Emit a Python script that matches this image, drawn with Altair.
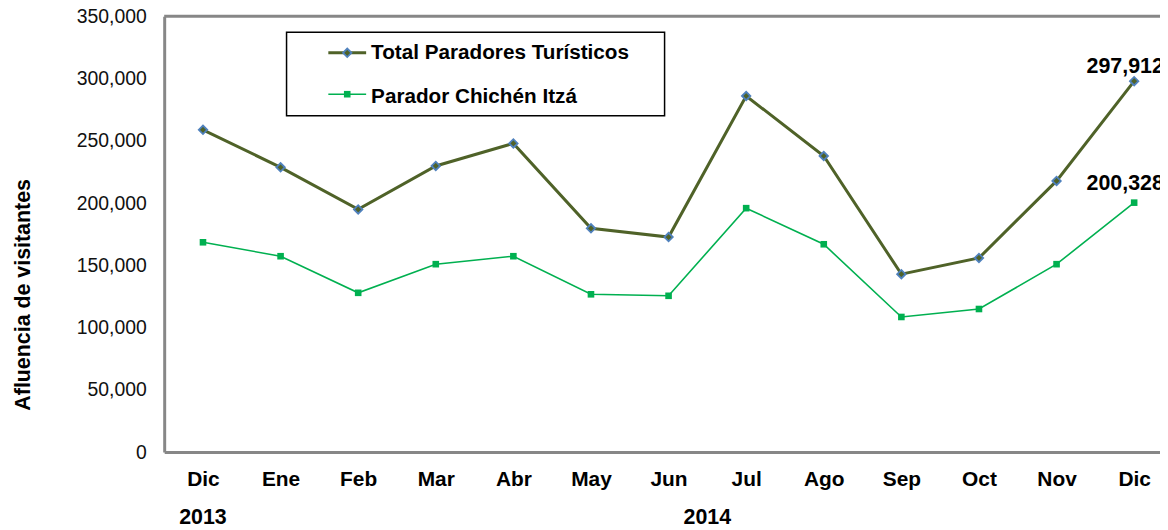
import altair as alt
import pandas as pd

# ---- data ----
months = ["Dic", "Ene", "Feb", "Mar", "Abr", "May", "Jun", "Jul", "Ago", "Sep", "Oct", "Nov", "Dic"]
total = [258800, 228700, 194900, 229800, 247900, 179700, 172700, 286000, 237800, 142900, 155900, 217800, 297912]
chichen = [168500, 157300, 127900, 150900, 157300, 126700, 125500, 195900, 166900, 108500, 114900, 150900, 200328]
years = ["2013", "2014"]
year_months = [[0], list(range(1, 13))]
series = ["Total Paradores Turísticos", "Parador Chichén Itzá"]
y_ticks = list(range(0, 350001, 50000))

FONT = "Liberation Sans"
W, H = 1001, 438
FRAME = "#878787"
OLIVE = "#4F6228"
BLUE = "#4F81BD"
GREEN = "#00B050"

df = pd.DataFrame({"i": list(range(len(months))), "mes": months, "total": total, "chichen": chichen})
yr = pd.DataFrame({"year": years, "pos": [sum(m) / len(m) for m in year_months]})

label_expr = "[" + ",".join("'%s'" % m for m in months) + "][datum.value]"
xscale = alt.Scale(domain=[-0.5, 12.333], nice=False, zero=False)
xaxis = alt.Axis(values=list(range(len(months))), labelExpr=label_expr, title=None, ticks=False, grid=False,
                 labelFontSize=21, labelFontWeight="bold", labelColor="#000", labelPadding=17,
                 labelFlush=False, labelOverlap=False, domainColor=FRAME, domainWidth=3)
yscale = alt.Scale(domain=[0, 350000], nice=False)
yaxis = alt.Axis(values=y_ticks, format=",d", title="Afluencia de visitantes", ticks=False, grid=False,
                 labelFontSize=19.5, labelColor="#111", labelPadding=18,
                 titleFontSize=21.5, titleFontWeight="bold", titleColor="#000",
                 titleX=-141, titleY=279.5, titleAngle=270, titleBaseline="middle", titleAlign="center",
                 domainColor=FRAME, domainWidth=3)

base = alt.Chart(df)
X = alt.X("i:Q", scale=xscale, axis=xaxis)

line_total = base.mark_line(color=OLIVE, strokeWidth=3).encode(x=X, y=alt.Y("total:Q", scale=yscale, axis=yaxis))
pts_total = base.mark_point(shape="diamond", filled=True, fill=OLIVE, stroke=BLUE, strokeWidth=1.8,
                            size=72, opacity=1).encode(x=X, y=alt.Y("total:Q", scale=yscale, axis=yaxis))
line_ch = base.mark_line(color=GREEN, strokeWidth=1.6).encode(x=X, y=alt.Y("chichen:Q", scale=yscale, axis=yaxis))
pts_ch = base.mark_point(shape="square", filled=True, color=GREEN, size=44, opacity=1).encode(
    x=X, y=alt.Y("chichen:Q", scale=yscale, axis=yaxis))

lab_total = base.transform_filter(alt.datum.i == len(months) - 1).mark_text(
    font=FONT, fontSize=21.5, fontWeight="bold", color="#000", dx=-9, dy=-8, baseline="alphabetic"
).encode(x=X, y=alt.Y("total:Q", scale=yscale, axis=yaxis), text=alt.Text("total:Q", format=",d"))
lab_ch = base.transform_filter(alt.datum.i == len(months) - 1).mark_text(
    font=FONT, fontSize=21.5, fontWeight="bold", color="#000", dx=-9, dy=-12.5, baseline="alphabetic"
).encode(x=X, y=alt.Y("chichen:Q", scale=yscale, axis=yaxis), text=alt.Text("chichen:Q", format=",d"))

year_text = alt.Chart(yr).mark_text(font=FONT, fontSize=21.5, fontWeight="bold", color="#000",
                                    baseline="middle").encode(
    x=alt.X("pos:Q", scale=xscale, axis=xaxis), y=alt.value(H + 66), text="year:N")

one = pd.DataFrame({"k": [0]})
top_border = alt.Chart(one).mark_rule(color=FRAME, strokeWidth=3).encode(
    x=alt.value(0), x2=alt.value(W), y=alt.value(0))

# ---- legend box ----
leg_box = alt.Chart(one).mark_rect(fill="white", stroke="#000", strokeWidth=1.5).encode(
    x=alt.value(123), x2=alt.value(503), y=alt.value(16), y2=alt.value(100))
leg_df1 = pd.DataFrame({"name": [series[0]]})
leg_df2 = pd.DataFrame({"name": [series[1]]})
leg_l1 = alt.Chart(leg_df1).mark_rule(color=OLIVE, strokeWidth=3).encode(
    x=alt.value(165), x2=alt.value(203), y=alt.value(36.7))
leg_p1 = alt.Chart(leg_df1).mark_point(shape="diamond", filled=True, fill=OLIVE, stroke=BLUE,
                                       strokeWidth=1.8, size=72, opacity=1).encode(
    x=alt.value(184), y=alt.value(36.7))
leg_t1 = alt.Chart(leg_df1).mark_text(font=FONT, fontSize=20.8, fontWeight="bold", color="#000",
                                      align="left", baseline="alphabetic").encode(
    x=alt.value(208), y=alt.value(43.3), text="name:N")
leg_l2 = alt.Chart(leg_df2).mark_rule(color=GREEN, strokeWidth=1.6).encode(
    x=alt.value(165), x2=alt.value(203), y=alt.value(78.3))
leg_p2 = alt.Chart(leg_df2).mark_point(shape="square", filled=True, color=GREEN, size=44, opacity=1).encode(
    x=alt.value(184), y=alt.value(78.3))
leg_t2 = alt.Chart(leg_df2).mark_text(font=FONT, fontSize=20.8, fontWeight="bold", color="#000",
                                      align="left", baseline="alphabetic").encode(
    x=alt.value(208), y=alt.value(86.7), text="name:N")

chart = alt.layer(
    line_total, top_border, line_ch, pts_ch, pts_total, lab_total, lab_ch, year_text,
    leg_box, leg_l1, leg_p1, leg_t1, leg_l2, leg_p2, leg_t2
).properties(
    width=W, height=H,
    autosize=alt.AutoSizeParams(type="none"),
    padding={"left": 157, "top": 7, "right": 0, "bottom": 77},
).configure(font=FONT).configure_view(stroke="transparent")

chart.save("out.html", embed_options={"renderer": "svg", "actions": False})
